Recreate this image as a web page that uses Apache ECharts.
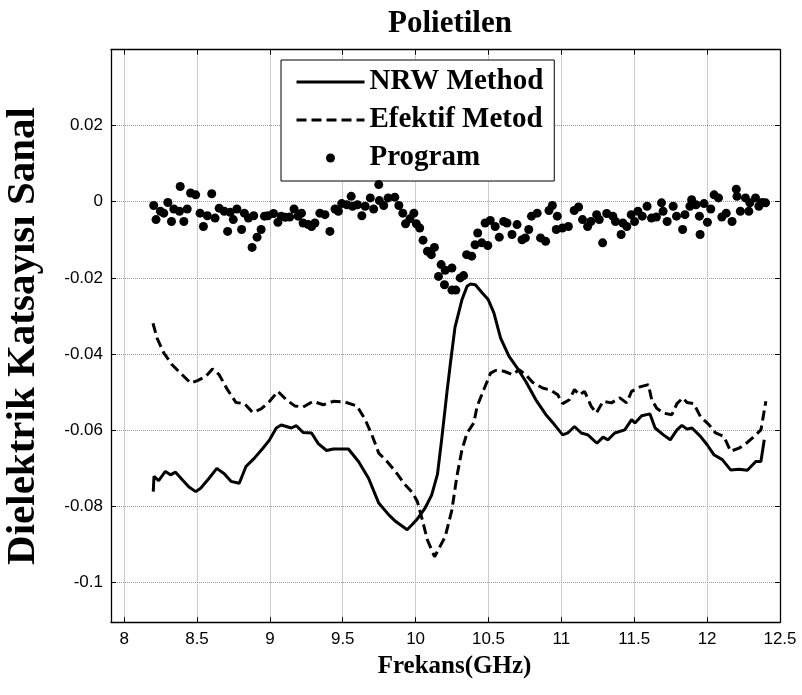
<!DOCTYPE html>
<html>
<head>
<meta charset="utf-8">
<script src="https://cdn.jsdelivr.net/npm/echarts@6/dist/echarts.min.js"></script>
<style>
  html, body { margin: 0; padding: 0; background: #fff; }
  #chart { width: 802px; height: 695px; }
</style>
</head>
<body>
<div id="chart"></div>
<script>
// NRW Method (düz çizgi)
var nrwFreq = [8.2, 8.205, 8.237, 8.283, 8.318, 8.353, 8.399, 8.445, 8.491, 8.525, 8.583, 8.636, 8.687, 8.733, 8.79, 8.836, 8.894, 8.952, 8.998, 9.044, 9.078, 9.147, 9.182, 9.228, 9.286, 9.332, 9.389, 9.435, 9.539, 9.608, 9.677, 9.747, 9.816, 9.862, 9.942, 9.975, 10.007, 10.065, 10.11, 10.15, 10.18, 10.215, 10.24, 10.27, 10.318, 10.353, 10.376, 10.41, 10.456, 10.498, 10.537, 10.583, 10.641, 10.698, 10.756, 10.825, 10.894, 10.952, 11.009, 11.044, 11.09, 11.136, 11.182, 11.244, 11.286, 11.32, 11.366, 11.435, 11.482, 11.505, 11.551, 11.608, 11.643, 11.7, 11.747, 11.793, 11.827, 11.862, 11.896, 11.954, 12.0, 12.046, 12.104, 12.161, 12.219, 12.276, 12.334, 12.369, 12.392];
var nrwVal = [-0.0761, -0.0721, -0.0732, -0.0708, -0.0717, -0.0710, -0.0730, -0.0749, -0.0761, -0.0752, -0.0726, -0.0700, -0.0714, -0.0734, -0.0739, -0.0695, -0.0673, -0.0647, -0.0625, -0.0594, -0.0586, -0.0594, -0.0588, -0.0606, -0.0607, -0.0635, -0.0653, -0.0649, -0.0649, -0.0682, -0.0726, -0.0791, -0.0822, -0.0839, -0.0861, -0.0848, -0.0835, -0.0804, -0.0770, -0.0715, -0.0620, -0.0500, -0.0420, -0.0330, -0.0257, -0.0222, -0.0216, -0.0218, -0.0239, -0.0257, -0.0292, -0.0358, -0.0406, -0.0437, -0.0472, -0.0520, -0.0559, -0.0585, -0.0612, -0.0607, -0.0590, -0.0607, -0.0612, -0.0634, -0.0618, -0.0625, -0.0607, -0.0599, -0.0572, -0.0581, -0.0562, -0.0557, -0.0594, -0.0612, -0.0625, -0.0599, -0.0587, -0.0597, -0.0594, -0.0616, -0.0638, -0.0664, -0.0677, -0.0704, -0.0702, -0.0705, -0.0682, -0.0682, -0.0625];

// Efektif Metod (kesikli çizgi)
var efFreq = [8.198, 8.226, 8.272, 8.329, 8.387, 8.456, 8.507, 8.56, 8.606, 8.652, 8.71, 8.767, 8.825, 8.882, 8.94, 8.998, 9.055, 9.113, 9.171, 9.228, 9.297, 9.366, 9.435, 9.516, 9.597, 9.654, 9.7, 9.747, 9.804, 9.862, 9.919, 9.977, 10.012, 10.046, 10.081, 10.13, 10.203, 10.249, 10.283, 10.318, 10.353, 10.399, 10.422, 10.468, 10.514, 10.548, 10.606, 10.664, 10.71, 10.756, 10.802, 10.871, 10.929, 10.975, 11.009, 11.055, 11.09, 11.124, 11.159, 11.205, 11.24, 11.286, 11.343, 11.401, 11.447, 11.482, 11.539, 11.597, 11.62, 11.654, 11.7, 11.758, 11.793, 11.834, 11.862, 11.908, 11.954, 12.012, 12.058, 12.115, 12.161, 12.219, 12.276, 12.323, 12.369, 12.403];
var efVal = [-0.0319, -0.0358, -0.0397, -0.0428, -0.0450, -0.0476, -0.0469, -0.0459, -0.0439, -0.0454, -0.0494, -0.0527, -0.0530, -0.0553, -0.0544, -0.0524, -0.0498, -0.0520, -0.0536, -0.0539, -0.0524, -0.0533, -0.0524, -0.0526, -0.0536, -0.0572, -0.0612, -0.0660, -0.0682, -0.0708, -0.0739, -0.0763, -0.0787, -0.0835, -0.0888, -0.0932, -0.0879, -0.0809, -0.0721, -0.0651, -0.0607, -0.0581, -0.0537, -0.0493, -0.0450, -0.0443, -0.0445, -0.0454, -0.0441, -0.0454, -0.0474, -0.0489, -0.0495, -0.0507, -0.0530, -0.0520, -0.0493, -0.0507, -0.0498, -0.0537, -0.0555, -0.0524, -0.0528, -0.0515, -0.0528, -0.0498, -0.0486, -0.0480, -0.0520, -0.0542, -0.0555, -0.0559, -0.0530, -0.0515, -0.0527, -0.0530, -0.0564, -0.0585, -0.0607, -0.0616, -0.0655, -0.0647, -0.0632, -0.0616, -0.0599, -0.0524];

// Program (noktalar)
var progFreq = [8.203, 8.219, 8.249, 8.272, 8.3, 8.325, 8.341, 8.38, 8.385, 8.41, 8.433, 8.456, 8.491, 8.521, 8.544, 8.571, 8.601, 8.624, 8.652, 8.687, 8.71, 8.728, 8.749, 8.774, 8.806, 8.825, 8.853, 8.878, 8.889, 8.912, 8.94, 8.963, 8.986, 9.025, 9.055, 9.078, 9.106, 9.136, 9.166, 9.194, 9.217, 9.228, 9.263, 9.286, 9.309, 9.343, 9.378, 9.412, 9.447, 9.47, 9.493, 9.528, 9.558, 9.567, 9.601, 9.631, 9.654, 9.689, 9.712, 9.747, 9.751, 9.781, 9.811, 9.857, 9.885, 9.912, 9.931, 9.961, 9.988, 10.005, 10.028, 10.051, 10.081, 10.108, 10.129, 10.157, 10.175, 10.198, 10.203, 10.249, 10.249, 10.276, 10.306, 10.329, 10.35, 10.385, 10.408, 10.426, 10.454, 10.477, 10.495, 10.512, 10.546, 10.574, 10.604, 10.627, 10.661, 10.696, 10.73, 10.753, 10.776, 10.795, 10.834, 10.857, 10.892, 10.915, 10.938, 10.965, 10.972, 11.007, 11.048, 11.088, 11.118, 11.145, 11.18, 11.203, 11.242, 11.26, 11.283, 11.311, 11.353, 11.371, 11.41, 11.422, 11.449, 11.479, 11.502, 11.525, 11.555, 11.588, 11.618, 11.652, 11.687, 11.698, 11.726, 11.767, 11.79, 11.832, 11.848, 11.882, 11.894, 11.924, 11.947, 11.952, 11.979, 12.002, 12.025, 12.048, 12.078, 12.101, 12.131, 12.171, 12.2, 12.205, 12.228, 12.263, 12.286, 12.293, 12.332, 12.355, 12.378, 12.401];
var progVal = [-0.0010, -0.0047, -0.0025, -0.0030, -0.0002, -0.0052, -0.0019, -0.0025, 0.0040, -0.0052, -0.0019, 0.0023, 0.0018, -0.0030, -0.0065, -0.0037, 0.0021, -0.0043, -0.0017, -0.0025, -0.0078, -0.0028, -0.0047, -0.0019, -0.0073, -0.0030, -0.0043, -0.0120, -0.0037, -0.0093, -0.0073, -0.0038, -0.0037, -0.0031, -0.0054, -0.0038, -0.0041, -0.0040, -0.0019, -0.0038, -0.0030, -0.0056, -0.0060, -0.0065, -0.0056, -0.0030, -0.0034, -0.0078, -0.0019, -0.0025, -0.0005, -0.0008, 0.0014, -0.0012, -0.0008, -0.0037, -0.0012, 0.0010, -0.0019, 0.0045, 0.0003, -0.0010, 0.0010, 0.0012, -0.0010, -0.0030, -0.0058, -0.0045, -0.0030, -0.0058, -0.0069, -0.0101, -0.0130, -0.0139, -0.0120, -0.0196, -0.0165, -0.0218, -0.0180, -0.0174, -0.0232, -0.0232, -0.0200, -0.0194, -0.0139, -0.0143, -0.0113, -0.0082, -0.0108, -0.0056, -0.0115, -0.0049, -0.0065, -0.0093, -0.0052, -0.0056, -0.0086, -0.0060, -0.0100, -0.0095, -0.0073, -0.0038, -0.0030, -0.0095, -0.0104, -0.0023, -0.0010, -0.0073, -0.0038, -0.0069, -0.0065, -0.0023, -0.0014, -0.0047, -0.0065, -0.0052, -0.0034, -0.0047, -0.0108, -0.0031, -0.0038, -0.0052, -0.0086, -0.0056, -0.0065, -0.0034, -0.0052, -0.0025, -0.0038, -0.0012, -0.0043, -0.0040, -0.0003, -0.0025, -0.0052, -0.0012, -0.0038, -0.0073, -0.0034, -0.0012, 0.0005, -0.0008, -0.0038, -0.0086, -0.0005, -0.0054, -0.0019, 0.0018, 0.0010, -0.0040, -0.0030, -0.0052, 0.0033, 0.0014, -0.0025, 0.0010, -0.0025, -0.0003, 0.0010, -0.0012, -0.0002, -0.0003];

var xTicks = [8, 8.5, 9, 9.5, 10, 10.5, 11, 11.5, 12, 12.5];
var yTicks = [-0.1, -0.08, -0.06, -0.04, -0.02, 0, 0.02];

function pairs(xs, ys) {
  return xs.map(function (x, i) { return [x, ys[i]]; });
}
function onTick(list, v) {
  return list.some(function (t) { return Math.abs(t - v) < 1e-6; });
}

var chart = echarts.init(document.getElementById('chart'), null, { renderer: 'canvas' });

var serif = '"Liberation Serif", "Times New Roman", serif';
var sans = '"Liberation Sans", Arial, sans-serif';

var gridLine = { show: true, lineStyle: { color: '#9a9a9a', type: 'dotted', width: 1 } };
var tick = { show: true, inside: true, length: 5, lineStyle: { color: '#000', width: 1 } };
var axisLine = { show: true, onZero: false, lineStyle: { color: '#000', width: 1.3 } };

var option = {
  backgroundColor: '#fff',
  animation: false,
  title: {
    text: 'Polietilen',
    left: 445,
    top: 3,
    textAlign: 'center',
    textStyle: { fontFamily: serif, fontWeight: 'bold', fontSize: 31, color: '#000' }
  },
  grid: { left: 111, right: 22, top: 49.7, bottom: 72.7, outerBoundsMode: 'none', containLabel: false },
  legend: {
    orient: 'vertical',
    left: 281,
    top: 60,
    padding: [7, 11, 8, 14],
    itemWidth: 68,
    itemHeight: 9,
    itemGap: 8,
    backgroundColor: '#fff',
    borderColor: '#000',
    borderWidth: 1,
    borderRadius: 0,
    lineStyle: { width: 3 },
    textStyle: { fontFamily: serif, fontWeight: 'bold', fontSize: 29, lineHeight: 30, color: '#000' },
    data: [
      { name: 'NRW Method', itemStyle: { opacity: 0 } },
      { name: 'Efektif Metod', itemStyle: { opacity: 0 } },
      { name: 'Program' }
    ]
  },
  xAxis: [{
    type: 'value',
    min: 7.91,
    max: 12.5,
    minInterval: 0.5,
    maxInterval: 0.5,
    axisLine: axisLine,
    axisTick: tick,
    splitLine: gridLine,
    axisLabel: {
      margin: 9,
      fontFamily: sans, fontSize: 17, color: '#000',
      formatter: function (v) { return onTick(xTicks, v) ? String(v) : ''; }
    },
    name: 'Frekans(GHz)',
    nameLocation: 'middle',
    nameGap: 32,
    nameTextStyle: { fontFamily: serif, fontWeight: 'bold', fontSize: 25, color: '#000', padding: [0, 0, 0, 18] }
  }, {
    type: 'value',
    position: 'top',
    min: 7.91,
    max: 12.5,
    minInterval: 0.5,
    maxInterval: 0.5,
    axisLine: axisLine,
    axisTick: tick,
    axisLabel: { show: false },
    splitLine: { show: false }
  }],
  yAxis: [{
    type: 'value',
    min: -0.1104,
    max: 0.0399,
    minInterval: 0.02,
    maxInterval: 0.02,
    axisLine: axisLine,
    axisTick: tick,
    splitLine: gridLine,
    axisLabel: {
      margin: 8,
      fontFamily: sans, fontSize: 17, color: '#000',
      formatter: function (v) { return onTick(yTicks, v) ? String(Math.round(v * 100) / 100) : ''; }
    },
    name: 'Dielektrik Katsayısı Sanal',
    nameLocation: 'middle',
    nameGap: 67,
    nameTextStyle: { fontFamily: serif, fontWeight: 'bold', fontSize: 41, color: '#000' }
  }, {
    type: 'value',
    position: 'right',
    min: -0.1104,
    max: 0.0399,
    minInterval: 0.02,
    maxInterval: 0.02,
    axisLine: axisLine,
    axisTick: tick,
    axisLabel: { show: false },
    splitLine: { show: false }
  }],
  series: [
    {
      name: 'NRW Method',
      type: 'line',
      symbol: 'none',
      lineStyle: { color: '#000', width: 3 },
      itemStyle: { color: '#000' },
      data: pairs(nrwFreq, nrwVal),
      z: 3
    },
    {
      name: 'Efektif Metod',
      type: 'line',
      symbol: 'none',
      lineStyle: { color: '#000', width: 3, type: [10, 5] },
      itemStyle: { color: '#000' },
      data: pairs(efFreq, efVal),
      z: 3
    },
    {
      name: 'Program',
      type: 'scatter',
      symbol: 'circle',
      symbolSize: 9,
      itemStyle: { color: '#000', opacity: 1 },
      data: pairs(progFreq, progVal),
      z: 4
    }
  ]
};

chart.setOption(option);
</script>
</body>
</html>
